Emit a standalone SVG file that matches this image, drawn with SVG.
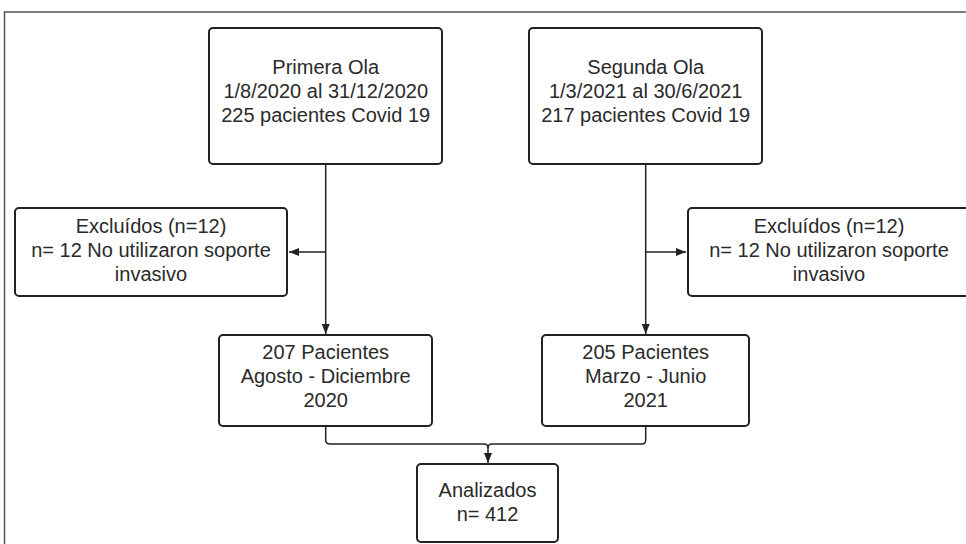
<svg xmlns="http://www.w3.org/2000/svg" width="966" height="544" viewBox="0 0 966 544">
<defs>
<marker id="arr" markerWidth="10" markerHeight="8" refX="10" refY="4" orient="auto" markerUnits="userSpaceOnUse">
<path d="M0,0 L10,4 L0,8 Z" fill="#222"/>
</marker>
<style>
.box{fill:#fff;stroke:#222;stroke-width:2}
.t{font-family:"Liberation Sans",Arial,sans-serif;font-size:20px;fill:#2a2a2a;text-anchor:middle}
.c{fill:none;stroke:#222;stroke-width:1.5}
</style>
</defs>
<rect width="966" height="544" fill="#fff"/>
<path d="M4.5,560 V12 H980" fill="none" stroke="#555" stroke-width="1.5"/>
<g id="connectors">
<path class="c" d="M325.7,164 V334" marker-end="url(#arr)"/>
<path class="c" d="M325.7,252 H289" marker-end="url(#arr)"/>
<path class="c" d="M645.7,164 V334" marker-end="url(#arr)"/>
<path class="c" d="M645.7,252 H686" marker-end="url(#arr)"/>
<path class="c" d="M325.7,426 V440 Q325.7,444 329.7,444 H484 Q488,444 488,448 Q488,444 492,444 H641.7 Q645.7,444 645.7,440 V426"/>
<path class="c" d="M488,446 V463" marker-end="url(#arr)"/>
</g>
<g id="primera">
<rect class="box" x="209" y="28" width="233" height="136" rx="4"/>
<text class="t" x="325.7" y="74">Primera Ola</text>
<text class="t" x="325.7" y="98">1/8/2020 al 31/12/2020</text>
<text class="t" x="325.7" y="122">225 pacientes Covid 19</text>
</g>
<g id="segunda">
<rect class="box" x="529" y="28" width="233" height="136" rx="4"/>
<text class="t" x="645.7" y="74">Segunda Ola</text>
<text class="t" x="645.7" y="98">1/3/2021 al 30/6/2021</text>
<text class="t" x="645.7" y="122">217 pacientes Covid 19</text>
</g>
<g id="excl1">
<rect class="box" x="15" y="208" width="272" height="88" rx="4"/>
<text class="t" x="151" y="233">Excluídos (n=12)</text>
<text class="t" x="151" y="257">n= 12 No utilizaron soporte</text>
<text class="t" x="151" y="281">invasivo</text>
</g>
<g id="excl2">
<rect class="box" x="688" y="208" width="282" height="88" rx="4"/>
<text class="t" x="829" y="233">Excluídos (n=12)</text>
<text class="t" x="829" y="257">n= 12 No utilizaron soporte</text>
<text class="t" x="829" y="281">invasivo</text>
</g>
<g id="p207">
<rect class="box" x="219" y="335" width="213" height="91" rx="4"/>
<text class="t" x="325.7" y="359">207 Pacientes</text>
<text class="t" x="325.7" y="383">Agosto - Diciembre</text>
<text class="t" x="325.7" y="407">2020</text>
</g>
<g id="p205">
<rect class="box" x="542" y="335" width="207" height="91" rx="4"/>
<text class="t" x="645.7" y="359">205 Pacientes</text>
<text class="t" x="645.7" y="383">Marzo - Junio</text>
<text class="t" x="645.7" y="407">2021</text>
</g>
<g id="analizados">
<rect class="box" x="417" y="464" width="141" height="78" rx="4"/>
<text class="t" x="487.5" y="497">Analizados</text>
<text class="t" x="487.5" y="521">n= 412</text>
</g>
</svg>
